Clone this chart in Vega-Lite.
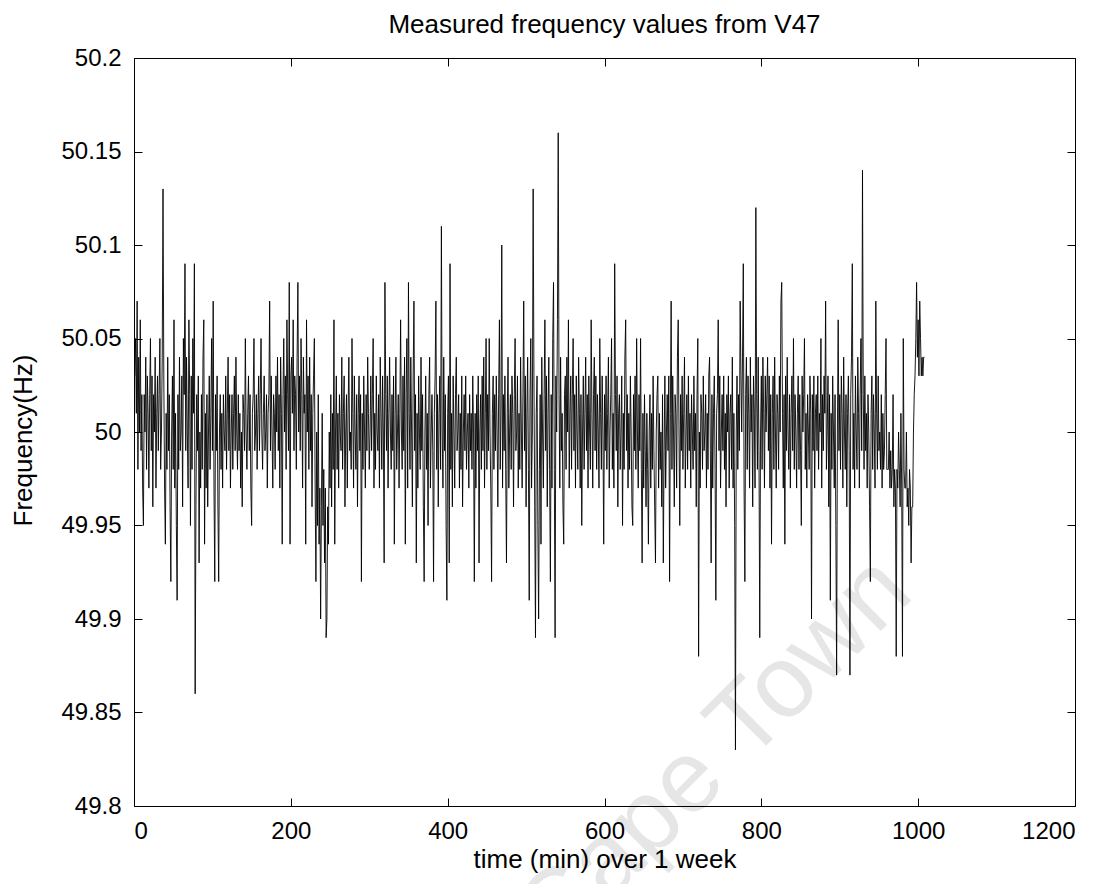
{
"$schema":"https://vega.github.io/schema/vega-lite/v6.json",
"width":941,"height":748,
"autosize":{"type":"none"},
"padding":{"left":134,"top":58,"right":34,"bottom":78},
"background":"white",
"title":{"text":"Measured frequency values from V47","font":"Liberation Sans","fontSize":26,"fontWeight":"normal","color":"black","anchor":"middle","baseline":"alphabetic","offset":7,"dy":20},
"config":{"view":{"stroke":null},"axis":{"grid":false,"domainColor":"black","domainWidth":1,"tickColor":"black","tickWidth":1,"tickSize":-8,"labelColor":"black","titleColor":"black","labelFont":"Liberation Sans","titleFont":"Liberation Sans","labelFontSize":24,"titleFontSize":26,"titleFontWeight":"normal"}},
"datasets":{"freq":[
{"t":1,"f":50.03},{"t":2,"f":50.05},{"t":3,"f":50.01},{"t":4,"f":50.07},{"t":5,"f":49.98},{"t":6,"f":50.04},{"t":7,"f":50},{"t":8,"f":50.06},{"t":9,"f":49.99},{"t":10,"f":50.02},
{"t":11,"f":49.97},{"t":12,"f":49.95},{"t":13,"f":50.02},{"t":14,"f":50},{"t":15,"f":50.04},{"t":16,"f":49.98},{"t":17,"f":50.03},{"t":18,"f":50.01},{"t":19,"f":49.97},{"t":20,"f":50.02},
{"t":21,"f":50.05},{"t":22,"f":49.99},{"t":23,"f":50.03},{"t":24,"f":49.96},{"t":25,"f":50.02},{"t":26,"f":50},{"t":27,"f":50.04},{"t":28,"f":49.97},{"t":29,"f":50.01},{"t":30,"f":50.03},
{"t":31,"f":49.99},{"t":32,"f":50.02},{"t":33,"f":50.05},{"t":34,"f":49.98},{"t":35,"f":50},{"t":36,"f":50.04},{"t":37,"f":50.13},{"t":38,"f":50.03},{"t":39,"f":49.97},{"t":40,"f":49.94},
{"t":41,"f":50.01},{"t":42,"f":49.98},{"t":43,"f":50.04},{"t":44,"f":49.99},{"t":45,"f":50.02},{"t":46,"f":49.96},{"t":47,"f":49.92},{"t":48,"f":50},{"t":49,"f":50.03},{"t":50,"f":49.98},
{"t":51,"f":50.06},{"t":52,"f":49.97},{"t":53,"f":50.01},{"t":54,"f":49.95},{"t":55,"f":49.91},{"t":56,"f":50.02},{"t":57,"f":49.98},{"t":58,"f":50.04},{"t":59,"f":49.99},{"t":60,"f":50},
{"t":61,"f":50.03},{"t":62,"f":49.96},{"t":63,"f":50.05},{"t":64,"f":50.02},{"t":65,"f":50.09},{"t":66,"f":49.99},{"t":67,"f":50.04},{"t":68,"f":50},{"t":69,"f":49.97},{"t":70,"f":50.06},
{"t":71,"f":50.02},{"t":72,"f":49.95},{"t":73,"f":50.03},{"t":74,"f":49.98},{"t":75,"f":50.05},{"t":76,"f":50.01},{"t":77,"f":50.09},{"t":78,"f":49.86},{"t":79,"f":49.96},{"t":80,"f":50.02},
{"t":81,"f":49.99},{"t":82,"f":50.03},{"t":83,"f":49.93},{"t":84,"f":50},{"t":85,"f":49.97},{"t":86,"f":50.02},{"t":87,"f":49.98},{"t":88,"f":50.04},{"t":89,"f":50.06},{"t":90,"f":49.94},
{"t":91,"f":50.01},{"t":92,"f":49.97},{"t":93,"f":50.02},{"t":94,"f":49.96},{"t":95,"f":50},{"t":96,"f":50.03},{"t":97,"f":49.98},{"t":98,"f":50.01},{"t":99,"f":50.05},{"t":100,"f":49.99},
{"t":101,"f":50.07},{"t":102,"f":49.97},{"t":103,"f":49.92},{"t":104,"f":50.02},{"t":105,"f":49.99},{"t":106,"f":50.03},{"t":107,"f":49.96},{"t":108,"f":49.92},{"t":109,"f":50},{"t":110,"f":50.02},
{"t":111,"f":49.98},{"t":112,"f":50.01},{"t":113,"f":49.97},{"t":114,"f":50.02},{"t":115,"f":50},{"t":116,"f":49.99},{"t":117,"f":50.03},{"t":118,"f":49.98},{"t":119,"f":50.01},{"t":120,"f":50.04},
{"t":121,"f":49.99},{"t":122,"f":50.02},{"t":123,"f":49.97},{"t":124,"f":50},{"t":125,"f":50.02},{"t":126,"f":49.98},{"t":127,"f":50.01},{"t":128,"f":50.03},{"t":129,"f":49.99},{"t":130,"f":50.04},
{"t":131,"f":50},{"t":132,"f":49.98},{"t":133,"f":50.02},{"t":134,"f":49.99},{"t":135,"f":50.01},{"t":136,"f":49.97},{"t":137,"f":50},{"t":138,"f":49.96},{"t":139,"f":50.02},{"t":140,"f":50.01},
{"t":141,"f":49.99},{"t":142,"f":50.05},{"t":143,"f":50},{"t":144,"f":49.98},{"t":145,"f":50.01},{"t":146,"f":50.03},{"t":147,"f":49.99},{"t":148,"f":50.02},{"t":149,"f":49.97},{"t":150,"f":49.95},
{"t":151,"f":50.01},{"t":152,"f":50.02},{"t":153,"f":50.05},{"t":154,"f":49.99},{"t":155,"f":50},{"t":156,"f":50.02},{"t":157,"f":49.98},{"t":158,"f":50.01},{"t":159,"f":50.03},{"t":160,"f":49.99},
{"t":161,"f":50.02},{"t":162,"f":50.05},{"t":163,"f":50},{"t":164,"f":49.98},{"t":165,"f":50.01},{"t":166,"f":50.03},{"t":167,"f":49.99},{"t":168,"f":50},{"t":169,"f":50.02},{"t":170,"f":49.97},
{"t":171,"f":50.01},{"t":172,"f":50.02},{"t":173,"f":50.07},{"t":174,"f":49.99},{"t":175,"f":50.03},{"t":176,"f":50},{"t":177,"f":49.97},{"t":178,"f":50.02},{"t":179,"f":50.01},{"t":180,"f":49.98},
{"t":181,"f":50.03},{"t":182,"f":50},{"t":183,"f":50.04},{"t":184,"f":49.99},{"t":185,"f":50.02},{"t":186,"f":49.97},{"t":187,"f":50.04},{"t":188,"f":50.01},{"t":189,"f":49.94},{"t":190,"f":50.02},
{"t":191,"f":50.05},{"t":192,"f":50},{"t":193,"f":50.03},{"t":194,"f":49.98},{"t":195,"f":50.06},{"t":196,"f":50.02},{"t":197,"f":49.99},{"t":198,"f":50.08},{"t":199,"f":49.94},{"t":200,"f":50.03},
{"t":201,"f":50.04},{"t":202,"f":50.01},{"t":203,"f":50.06},{"t":204,"f":49.99},{"t":205,"f":50.03},{"t":206,"f":50.02},{"t":207,"f":49.98},{"t":208,"f":50.04},{"t":209,"f":50.08},{"t":210,"f":50},
{"t":211,"f":50.03},{"t":212,"f":49.99},{"t":213,"f":50.05},{"t":214,"f":50.02},{"t":215,"f":49.97},{"t":216,"f":50.04},{"t":217,"f":50.01},{"t":218,"f":50.02},{"t":219,"f":49.94},{"t":220,"f":50.06},
{"t":221,"f":50},{"t":222,"f":50.03},{"t":223,"f":49.98},{"t":224,"f":50.04},{"t":225,"f":49.99},{"t":226,"f":50.02},{"t":227,"f":49.96},{"t":228,"f":50.01},{"t":229,"f":50.03},{"t":230,"f":50.05},
{"t":231,"f":49.97},{"t":232,"f":49.92},{"t":233,"f":50},{"t":234,"f":49.95},{"t":235,"f":50.02},{"t":236,"f":49.94},{"t":237,"f":49.97},{"t":238,"f":49.9},{"t":239,"f":49.96},{"t":240,"f":50.01},
{"t":241,"f":49.95},{"t":242,"f":49.98},{"t":243,"f":49.93},{"t":244,"f":49.97},{"t":245,"f":49.89},{"t":246,"f":49.9},{"t":247,"f":49.96},{"t":248,"f":49.94},{"t":249,"f":50},{"t":250,"f":49.97},
{"t":251,"f":50.02},{"t":252,"f":49.96},{"t":253,"f":50.01},{"t":254,"f":49.98},{"t":255,"f":50.06},{"t":256,"f":49.94},{"t":257,"f":50},{"t":258,"f":50.03},{"t":259,"f":49.98},{"t":260,"f":50.01},
{"t":261,"f":49.97},{"t":262,"f":50.02},{"t":263,"f":50},{"t":264,"f":49.99},{"t":265,"f":50.04},{"t":266,"f":49.98},{"t":267,"f":50.01},{"t":268,"f":50.03},{"t":269,"f":49.96},{"t":270,"f":50},
{"t":271,"f":50.02},{"t":272,"f":49.97},{"t":273,"f":50.01},{"t":274,"f":50.04},{"t":275,"f":49.99},{"t":276,"f":50},{"t":277,"f":49.98},{"t":278,"f":50.05},{"t":279,"f":50.01},{"t":280,"f":49.97},
{"t":281,"f":50.03},{"t":282,"f":50},{"t":283,"f":49.98},{"t":284,"f":50.02},{"t":285,"f":49.96},{"t":286,"f":50.01},{"t":287,"f":50.03},{"t":288,"f":49.99},{"t":289,"f":50.02},{"t":290,"f":49.92},
{"t":291,"f":50.01},{"t":292,"f":49.98},{"t":293,"f":50.03},{"t":294,"f":50},{"t":295,"f":49.97},{"t":296,"f":50.02},{"t":297,"f":49.99},{"t":298,"f":50.04},{"t":299,"f":50.01},{"t":300,"f":49.98},
{"t":301,"f":50},{"t":302,"f":50.03},{"t":303,"f":49.99},{"t":304,"f":50.02},{"t":305,"f":50.05},{"t":306,"f":49.97},{"t":307,"f":50.01},{"t":308,"f":49.98},{"t":309,"f":50.03},{"t":310,"f":50},
{"t":311,"f":49.99},{"t":312,"f":50.02},{"t":313,"f":49.97},{"t":314,"f":50.04},{"t":315,"f":50.01},{"t":316,"f":49.98},{"t":317,"f":50.03},{"t":318,"f":50},{"t":319,"f":49.93},{"t":320,"f":50.08},
{"t":321,"f":50.02},{"t":322,"f":49.99},{"t":323,"f":50.03},{"t":324,"f":49.97},{"t":325,"f":50.01},{"t":326,"f":50.04},{"t":327,"f":50},{"t":328,"f":49.98},{"t":329,"f":50.02},{"t":330,"f":49.99},
{"t":331,"f":50.03},{"t":332,"f":49.94},{"t":333,"f":50.01},{"t":334,"f":50.04},{"t":335,"f":49.98},{"t":336,"f":50},{"t":337,"f":50.02},{"t":338,"f":49.97},{"t":339,"f":50.01},{"t":340,"f":50.06},
{"t":341,"f":50},{"t":342,"f":49.98},{"t":343,"f":50.03},{"t":344,"f":49.99},{"t":345,"f":50.04},{"t":346,"f":49.94},{"t":347,"f":50.02},{"t":348,"f":50.05},{"t":349,"f":49.97},{"t":350,"f":50.08},
{"t":351,"f":50.01},{"t":352,"f":49.98},{"t":353,"f":50.04},{"t":354,"f":50},{"t":355,"f":49.96},{"t":356,"f":50.03},{"t":357,"f":50.07},{"t":358,"f":49.99},{"t":359,"f":50.02},{"t":360,"f":49.93},
{"t":361,"f":50.01},{"t":362,"f":49.97},{"t":363,"f":50.03},{"t":364,"f":50},{"t":365,"f":49.98},{"t":366,"f":50.04},{"t":367,"f":49.99},{"t":368,"f":50.02},{"t":369,"f":49.96},{"t":370,"f":49.92},
{"t":371,"f":50},{"t":372,"f":50.03},{"t":373,"f":49.98},{"t":374,"f":50.01},{"t":375,"f":49.95},{"t":376,"f":50.02},{"t":377,"f":50.04},{"t":378,"f":49.97},{"t":379,"f":50},{"t":380,"f":50.02},
{"t":381,"f":49.99},{"t":382,"f":49.92},{"t":383,"f":50.01},{"t":384,"f":50.03},{"t":385,"f":50.07},{"t":386,"f":49.98},{"t":387,"f":50.02},{"t":388,"f":49.96},{"t":389,"f":50.01},{"t":390,"f":50.03},
{"t":391,"f":49.98},{"t":392,"f":50.11},{"t":393,"f":50},{"t":394,"f":49.97},{"t":395,"f":50.04},{"t":396,"f":49.99},{"t":397,"f":50.02},{"t":398,"f":49.95},{"t":399,"f":49.91},{"t":400,"f":50.01},
{"t":401,"f":50.03},{"t":402,"f":49.93},{"t":403,"f":50.09},{"t":404,"f":49.98},{"t":405,"f":50.01},{"t":406,"f":49.96},{"t":407,"f":50.03},{"t":408,"f":50},{"t":409,"f":49.97},{"t":410,"f":50.02},
{"t":411,"f":50.04},{"t":412,"f":49.99},{"t":413,"f":50},{"t":414,"f":50.02},{"t":415,"f":49.97},{"t":416,"f":50.01},{"t":417,"f":49.98},{"t":418,"f":50.03},{"t":419,"f":49.96},{"t":420,"f":50},
{"t":421,"f":50.02},{"t":422,"f":49.99},{"t":423,"f":50.03},{"t":424,"f":49.98},{"t":425,"f":50},{"t":426,"f":50.01},{"t":427,"f":49.97},{"t":428,"f":50.02},{"t":429,"f":49.99},{"t":430,"f":50.01},
{"t":431,"f":49.98},{"t":432,"f":50.03},{"t":433,"f":50},{"t":434,"f":49.92},{"t":435,"f":50.01},{"t":436,"f":49.97},{"t":437,"f":50.02},{"t":438,"f":49.99},{"t":439,"f":50.03},{"t":440,"f":49.93},
{"t":441,"f":50},{"t":442,"f":50.02},{"t":443,"f":49.98},{"t":444,"f":50.03},{"t":445,"f":49.99},{"t":446,"f":50.04},{"t":447,"f":49.97},{"t":448,"f":50.01},{"t":449,"f":50.05},{"t":450,"f":49.98},
{"t":451,"f":50.02},{"t":452,"f":49.99},{"t":453,"f":50.05},{"t":454,"f":50},{"t":455,"f":49.97},{"t":456,"f":49.92},{"t":457,"f":50.01},{"t":458,"f":50.03},{"t":459,"f":49.98},{"t":460,"f":50.02},
{"t":461,"f":49.99},{"t":462,"f":50.03},{"t":463,"f":50},{"t":464,"f":49.96},{"t":465,"f":50.02},{"t":466,"f":50.06},{"t":467,"f":49.98},{"t":468,"f":50.01},{"t":469,"f":50.1},{"t":470,"f":49.97},
{"t":471,"f":50.02},{"t":472,"f":49.99},{"t":473,"f":50.03},{"t":474,"f":49.98},{"t":475,"f":49.93},{"t":476,"f":50.01},{"t":477,"f":50.04},{"t":478,"f":49.97},{"t":479,"f":50},{"t":480,"f":50.02},
{"t":481,"f":49.98},{"t":482,"f":50.03},{"t":483,"f":50.01},{"t":484,"f":49.96},{"t":485,"f":50.02},{"t":486,"f":50.05},{"t":487,"f":49.99},{"t":488,"f":50},{"t":489,"f":50.03},{"t":490,"f":49.97},
{"t":491,"f":50.01},{"t":492,"f":49.98},{"t":493,"f":50.04},{"t":494,"f":50},{"t":495,"f":49.97},{"t":496,"f":50.02},{"t":497,"f":50.07},{"t":498,"f":49.99},{"t":499,"f":50.03},{"t":500,"f":49.96},
{"t":501,"f":50.01},{"t":502,"f":50.04},{"t":503,"f":49.98},{"t":504,"f":49.91},{"t":505,"f":50.02},{"t":506,"f":50.05},{"t":507,"f":49.97},{"t":508,"f":50},{"t":509,"f":50.13},{"t":510,"f":50.03},
{"t":511,"f":49.96},{"t":512,"f":49.89},{"t":513,"f":50.01},{"t":514,"f":50.03},{"t":515,"f":49.95},{"t":516,"f":49.9},{"t":517,"f":49.98},{"t":518,"f":50.02},{"t":519,"f":49.94},{"t":520,"f":50.04},
{"t":521,"f":50},{"t":522,"f":49.97},{"t":523,"f":50.02},{"t":524,"f":50.06},{"t":525,"f":49.99},{"t":526,"f":50.03},{"t":527,"f":49.96},{"t":528,"f":50.01},{"t":529,"f":50.04},{"t":530,"f":49.98},
{"t":531,"f":49.92},{"t":532,"f":50.02},{"t":533,"f":49.97},{"t":534,"f":50.05},{"t":535,"f":50.08},{"t":536,"f":49.98},{"t":537,"f":49.89},{"t":538,"f":50.03},{"t":539,"f":50},{"t":540,"f":50.06},
{"t":541,"f":50.16},{"t":542,"f":50.02},{"t":543,"f":49.97},{"t":544,"f":50.04},{"t":545,"f":49.99},{"t":546,"f":50.01},{"t":547,"f":49.96},{"t":548,"f":49.94},{"t":549,"f":50.02},{"t":550,"f":50.03},
{"t":551,"f":49.98},{"t":552,"f":50.04},{"t":553,"f":50},{"t":554,"f":50.06},{"t":555,"f":49.97},{"t":556,"f":50.01},{"t":557,"f":50.03},{"t":558,"f":49.98},{"t":559,"f":50.02},{"t":560,"f":50.05},
{"t":561,"f":49.99},{"t":562,"f":50.02},{"t":563,"f":49.97},{"t":564,"f":50.03},{"t":565,"f":50},{"t":566,"f":49.98},{"t":567,"f":50.04},{"t":568,"f":50.01},{"t":569,"f":49.97},{"t":570,"f":50.02},
{"t":571,"f":49.95},{"t":572,"f":50},{"t":573,"f":50.03},{"t":574,"f":49.98},{"t":575,"f":50.01},{"t":576,"f":50.04},{"t":577,"f":49.99},{"t":578,"f":50.02},{"t":579,"f":49.97},{"t":580,"f":50.03},
{"t":581,"f":50},{"t":582,"f":49.98},{"t":583,"f":50.06},{"t":584,"f":50.01},{"t":585,"f":49.97},{"t":586,"f":50.02},{"t":587,"f":50.04},{"t":588,"f":49.99},{"t":589,"f":50.03},{"t":590,"f":49.98},
{"t":591,"f":50.02},{"t":592,"f":50},{"t":593,"f":49.97},{"t":594,"f":50.05},{"t":595,"f":50.01},{"t":596,"f":49.98},{"t":597,"f":50.03},{"t":598,"f":50},{"t":599,"f":49.94},{"t":600,"f":50.02},
{"t":601,"f":49.99},{"t":602,"f":50.03},{"t":603,"f":49.98},{"t":604,"f":50.01},{"t":605,"f":50.04},{"t":606,"f":49.97},{"t":607,"f":50},{"t":608,"f":50.02},{"t":609,"f":50.05},{"t":610,"f":49.98},
{"t":611,"f":50.01},{"t":612,"f":49.97},{"t":613,"f":50.09},{"t":614,"f":50.02},{"t":615,"f":49.99},{"t":616,"f":50.03},{"t":617,"f":49.96},{"t":618,"f":50.01},{"t":619,"f":50.02},{"t":620,"f":49.98},
{"t":621,"f":50},{"t":622,"f":50.03},{"t":623,"f":49.95},{"t":624,"f":50.01},{"t":625,"f":49.98},{"t":626,"f":50.04},{"t":627,"f":50.06},{"t":628,"f":49.99},{"t":629,"f":50.02},{"t":630,"f":49.97},
{"t":631,"f":50.01},{"t":632,"f":49.98},{"t":633,"f":50.03},{"t":634,"f":50},{"t":635,"f":49.96},{"t":636,"f":49.95},{"t":637,"f":50.02},{"t":638,"f":49.99},{"t":639,"f":50.03},{"t":640,"f":49.98},
{"t":641,"f":50.05},{"t":642,"f":50},{"t":643,"f":49.97},{"t":644,"f":50.02},{"t":645,"f":49.99},{"t":646,"f":50.05},{"t":647,"f":49.98},{"t":648,"f":49.93},{"t":649,"f":50.01},{"t":650,"f":49.97},
{"t":651,"f":50.02},{"t":652,"f":49.99},{"t":653,"f":49.96},{"t":654,"f":50.01},{"t":655,"f":49.98},{"t":656,"f":49.94},{"t":657,"f":50},{"t":658,"f":50.02},{"t":659,"f":49.97},{"t":660,"f":50.01},
{"t":661,"f":49.98},{"t":662,"f":50.03},{"t":663,"f":49.99},{"t":664,"f":49.96},{"t":665,"f":49.93},{"t":666,"f":50},{"t":667,"f":50.02},{"t":668,"f":50.03},{"t":669,"f":49.97},{"t":670,"f":50.01},
{"t":671,"f":49.98},{"t":672,"f":50},{"t":673,"f":49.96},{"t":674,"f":50.02},{"t":675,"f":49.93},{"t":676,"f":49.99},{"t":677,"f":50.03},{"t":678,"f":49.97},{"t":679,"f":50},{"t":680,"f":50.02},
{"t":681,"f":49.99},{"t":682,"f":50.03},{"t":683,"f":49.92},{"t":684,"f":50.01},{"t":685,"f":50.07},{"t":686,"f":49.98},{"t":687,"f":50.03},{"t":688,"f":50},{"t":689,"f":49.96},{"t":690,"f":50.02},
{"t":691,"f":50.01},{"t":692,"f":49.97},{"t":693,"f":50.04},{"t":694,"f":50.06},{"t":695,"f":50},{"t":696,"f":49.95},{"t":697,"f":50.02},{"t":698,"f":49.99},{"t":699,"f":50.03},{"t":700,"f":49.98},
{"t":701,"f":50.01},{"t":702,"f":50.04},{"t":703,"f":49.97},{"t":704,"f":50},{"t":705,"f":50.02},{"t":706,"f":49.98},{"t":707,"f":50.03},{"t":708,"f":49.99},{"t":709,"f":50.01},{"t":710,"f":49.97},
{"t":711,"f":50.02},{"t":712,"f":50},{"t":713,"f":49.98},{"t":714,"f":50.03},{"t":715,"f":49.99},{"t":716,"f":50.01},{"t":717,"f":49.96},{"t":718,"f":50.02},{"t":719,"f":50.05},{"t":720,"f":49.88},
{"t":721,"f":50},{"t":722,"f":49.97},{"t":723,"f":50.02},{"t":724,"f":50.01},{"t":725,"f":49.98},{"t":726,"f":50.03},{"t":727,"f":49.99},{"t":728,"f":50},{"t":729,"f":50.02},{"t":730,"f":49.97},
{"t":731,"f":50.01},{"t":732,"f":49.98},{"t":733,"f":50.03},{"t":734,"f":50.04},{"t":735,"f":49.99},{"t":736,"f":49.93},{"t":737,"f":50.02},{"t":738,"f":49.97},{"t":739,"f":50.01},{"t":740,"f":50.03},
{"t":741,"f":49.98},{"t":742,"f":49.91},{"t":743,"f":50.01},{"t":744,"f":50.02},{"t":745,"f":50.06},{"t":746,"f":49.99},{"t":747,"f":50.03},{"t":748,"f":49.97},{"t":749,"f":50},{"t":750,"f":50.02},
{"t":751,"f":49.99},{"t":752,"f":50.03},{"t":753,"f":49.98},{"t":754,"f":50.01},{"t":755,"f":49.96},{"t":756,"f":50.02},{"t":757,"f":50},{"t":758,"f":50.03},{"t":759,"f":49.97},{"t":760,"f":50.01},
{"t":761,"f":50.02},{"t":762,"f":49.98},{"t":763,"f":50.04},{"t":764,"f":49.97},{"t":765,"f":50.01},{"t":766,"f":49.95},{"t":767,"f":49.83},{"t":768,"f":50},{"t":769,"f":50.03},{"t":770,"f":49.98},
{"t":771,"f":50.02},{"t":772,"f":49.99},{"t":773,"f":50.07},{"t":774,"f":50.03},{"t":775,"f":50},{"t":776,"f":50.04},{"t":777,"f":50.09},{"t":778,"f":49.97},{"t":779,"f":49.92},{"t":780,"f":50.02},
{"t":781,"f":50.04},{"t":782,"f":49.98},{"t":783,"f":50.03},{"t":784,"f":50.01},{"t":785,"f":49.97},{"t":786,"f":50.04},{"t":787,"f":50},{"t":788,"f":50.02},{"t":789,"f":49.96},{"t":790,"f":50.03},
{"t":791,"f":50.01},{"t":792,"f":49.97},{"t":793,"f":50.12},{"t":794,"f":50.02},{"t":795,"f":49.98},{"t":796,"f":50.04},{"t":797,"f":49.99},{"t":798,"f":49.89},{"t":799,"f":50},{"t":800,"f":50.03},
{"t":801,"f":49.98},{"t":802,"f":50.04},{"t":803,"f":50.01},{"t":804,"f":49.97},{"t":805,"f":50.03},{"t":806,"f":50},{"t":807,"f":50.02},{"t":808,"f":50.04},{"t":809,"f":49.99},{"t":810,"f":50.03},
{"t":811,"f":49.97},{"t":812,"f":50.02},{"t":813,"f":49.94},{"t":814,"f":50.01},{"t":815,"f":50.03},{"t":816,"f":49.98},{"t":817,"f":50.04},{"t":818,"f":50},{"t":819,"f":49.97},{"t":820,"f":50.02},
{"t":821,"f":50.01},{"t":822,"f":49.98},{"t":823,"f":50.03},{"t":824,"f":50},{"t":825,"f":50.07},{"t":826,"f":50.08},{"t":827,"f":50.01},{"t":828,"f":49.97},{"t":829,"f":50.02},{"t":830,"f":49.94},
{"t":831,"f":50.03},{"t":832,"f":49.99},{"t":833,"f":50.04},{"t":834,"f":50},{"t":835,"f":49.98},{"t":836,"f":50.02},{"t":837,"f":49.97},{"t":838,"f":50.01},{"t":839,"f":50.03},{"t":840,"f":49.99},
{"t":841,"f":50.05},{"t":842,"f":49.98},{"t":843,"f":50.02},{"t":844,"f":50},{"t":845,"f":49.97},{"t":846,"f":50.01},{"t":847,"f":50.03},{"t":848,"f":49.98},{"t":849,"f":50.02},{"t":850,"f":49.99},
{"t":851,"f":49.95},{"t":852,"f":50.03},{"t":853,"f":50},{"t":854,"f":50.02},{"t":855,"f":50.05},{"t":856,"f":49.98},{"t":857,"f":50.01},{"t":858,"f":49.97},{"t":859,"f":50.02},{"t":860,"f":50},
{"t":861,"f":49.98},{"t":862,"f":50.03},{"t":863,"f":50.01},{"t":864,"f":49.9},{"t":865,"f":50.02},{"t":866,"f":49.99},{"t":867,"f":50.03},{"t":868,"f":49.97},{"t":869,"f":50.01},{"t":870,"f":50.02},
{"t":871,"f":49.99},{"t":872,"f":50.03},{"t":873,"f":49.98},{"t":874,"f":50.01},{"t":875,"f":50},{"t":876,"f":50.05},{"t":877,"f":49.97},{"t":878,"f":50.02},{"t":879,"f":49.99},{"t":880,"f":50.03},
{"t":881,"f":50.01},{"t":882,"f":50.07},{"t":883,"f":49.98},{"t":884,"f":50},{"t":885,"f":50.03},{"t":886,"f":49.96},{"t":887,"f":50.02},{"t":888,"f":49.91},{"t":889,"f":50.01},{"t":890,"f":49.98},
{"t":891,"f":50.03},{"t":892,"f":50},{"t":893,"f":49.97},{"t":894,"f":50.02},{"t":895,"f":49.95},{"t":896,"f":49.87},{"t":897,"f":50},{"t":898,"f":50.06},{"t":899,"f":49.99},{"t":900,"f":50.02},
{"t":901,"f":49.98},{"t":902,"f":50.03},{"t":903,"f":50.01},{"t":904,"f":49.97},{"t":905,"f":50.04},{"t":906,"f":50},{"t":907,"f":49.98},{"t":908,"f":50.02},{"t":909,"f":49.96},{"t":910,"f":50.01},
{"t":911,"f":50.03},{"t":912,"f":49.99},{"t":913,"f":49.87},{"t":914,"f":50.02},{"t":915,"f":50.04},{"t":916,"f":50.09},{"t":917,"f":49.98},{"t":918,"f":50.01},{"t":919,"f":49.97},{"t":920,"f":50.03},
{"t":921,"f":50},{"t":922,"f":49.98},{"t":923,"f":50.04},{"t":924,"f":50.01},{"t":925,"f":49.97},{"t":926,"f":50.02},{"t":927,"f":50.05},{"t":928,"f":49.99},{"t":929,"f":50.14},{"t":930,"f":50.02},
{"t":931,"f":49.98},{"t":932,"f":50.03},{"t":933,"f":49.99},{"t":934,"f":50.01},{"t":935,"f":49.97},{"t":936,"f":50.02},{"t":937,"f":50},{"t":938,"f":49.96},{"t":939,"f":49.92},{"t":940,"f":50.01},
{"t":941,"f":50.03},{"t":942,"f":49.98},{"t":943,"f":50.02},{"t":944,"f":50},{"t":945,"f":49.97},{"t":946,"f":50.07},{"t":947,"f":50.01},{"t":948,"f":49.98},{"t":949,"f":50.03},{"t":950,"f":49.99},
{"t":951,"f":50},{"t":952,"f":49.98},{"t":953,"f":50.02},{"t":954,"f":49.97},{"t":955,"f":50.01},{"t":956,"f":49.98},{"t":957,"f":49.99},{"t":958,"f":50.02},{"t":959,"f":50.05},{"t":960,"f":49.98},
{"t":961,"f":49.98},{"t":962,"f":49.98},{"t":963,"f":50},{"t":964,"f":49.97},{"t":965,"f":49.99},{"t":966,"f":49.97},{"t":967,"f":49.98},{"t":968,"f":50.02},{"t":969,"f":49.96},{"t":970,"f":49.98},
{"t":971,"f":49.97},{"t":972,"f":49.88},{"t":973,"f":49.98},{"t":974,"f":49.97},{"t":975,"f":50},{"t":976,"f":49.98},{"t":977,"f":49.96},{"t":978,"f":50.01},{"t":979,"f":49.97},{"t":980,"f":49.88},
{"t":981,"f":50.05},{"t":982,"f":49.98},{"t":983,"f":49.97},{"t":984,"f":49.97},{"t":985,"f":50},{"t":986,"f":49.96},{"t":987,"f":49.97},{"t":988,"f":49.95},{"t":989,"f":49.98},{"t":990,"f":49.97},
{"t":991,"f":49.93},{"t":992,"f":49.96},{"t":993,"f":49.96},{"t":994,"f":50},{"t":995,"f":50.02},{"t":996,"f":50.03},{"t":997,"f":50.05},{"t":998,"f":50.08},{"t":999,"f":50.04},{"t":1000,"f":50.06},
{"t":1001,"f":50.03},{"t":1002,"f":50.07},{"t":1003,"f":50.05},{"t":1004,"f":50.03},{"t":1005,"f":50.04},{"t":1006,"f":50.03},{"t":1007,"f":50.04},{"t":1008,"f":50.04}
]},
"layer":[
{"data":{"values":[{"label":"Cape Town"}]},
 "mark":{"type":"text","font":"Liberation Sans","fontSize":102,"color":"#e6e6e6","angle":-45,"align":"center","baseline":"middle"},
 "encoding":{
  "text":{"field":"label"},
  "x":{"datum":740,"type":"quantitative","scale":{"domain":[0,1200],"nice":false},"axis":{"orient":"top","zindex":2,"values":[0,200,400,600,800,1000,1200],"labels":false,"title":null}},
  "y":{"datum":49.828,"type":"quantitative","scale":{"domain":[49.8,50.2],"nice":false,"zero":false},"axis":{"orient":"right","zindex":2,"values":[49.8,49.85,49.9,49.95,50,50.05,50.1,50.15,50.2],"labels":false,"title":null}}}},
{"data":{"name":"freq"},
 "mark":{"type":"line","color":"black","strokeWidth":0.9},
 "encoding":{
  "x":{"field":"t","type":"quantitative","scale":{"domain":[0,1200],"nice":false},"axis":{"orient":"bottom","zindex":2,"values":[0,200,400,600,800,1000,1200],"format":"d","labelPadding":21,"title":"time (min) over 1 week","titleBaseline":"alphabetic","titleY":61}},
  "y":{"field":"f","type":"quantitative","scale":{"domain":[49.8,50.2],"nice":false,"zero":false},"axis":{"orient":"left","zindex":2,"values":[49.8,49.85,49.9,49.95,50,50.05,50.1,50.15,50.2],"format":".2~f","labelPadding":21,"title":"Frequency(Hz)","titleBaseline":"alphabetic","titleX":-103,"titleY":382}}}}
],
"resolve":{"axis":{"x":"independent","y":"independent"}}
}
